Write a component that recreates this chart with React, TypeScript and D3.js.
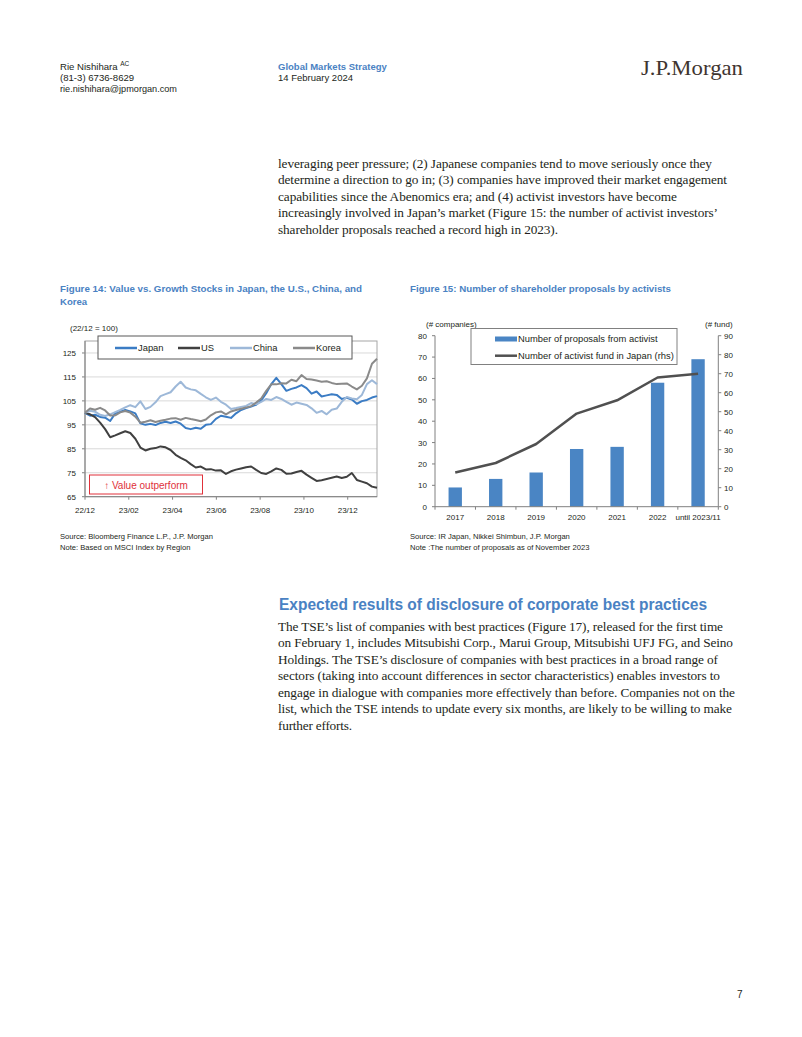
import React from 'react';
import * as d3 from 'd3';

const SANS = "'Liberation Sans', Arial, Helvetica, sans-serif";
const SERIF = "'Liberation Serif', 'Times New Roman', serif";
const BLUE = '#4a82c3';
const TXT = '#231f20';

// ---------- Figure 14: weekly index values (22/12 = 100) ----------
const fig14Japan = [
  100, 98.8, 99.2, 98.3, 98.0, 96.6, 99.8, 100.5, 101.2, 100.6,
  99.8, 95.6, 95.0, 95.4, 94.9, 95.8, 96.3, 95.8, 96.4, 95.5,
  93.7, 93.2, 93.8, 93.4, 95.0, 95.3, 97.5, 98.8, 98.4, 97.9,
  99.8, 101.2, 102.0, 102.6, 103.4, 105.2, 108.2, 112.0, 114.6, 112.0,
  109.2, 110.0, 110.6, 111.6, 110.3, 108.0, 108.9, 106.8, 107.3, 107.8,
  107.5, 105.8, 106.3, 105.6, 103.8, 104.9, 105.4, 106.4, 107.0,
];
const fig14US = [
  100, 99.4, 98.2, 95.9, 93.2, 89.8, 90.6, 91.5, 92.3, 91.6,
  89.2, 85.5, 84.3, 85.0, 85.3, 86.0, 85.6, 84.5, 82.5, 81.2,
  80.2, 78.6, 77.2, 77.6, 76.4, 76.5, 75.9, 76.0, 74.5, 75.6,
  76.3, 76.8, 77.3, 77.6, 76.2, 74.9, 74.5, 75.6, 76.8, 76.2,
  74.6, 74.7, 75.3, 75.8, 74.2, 72.9, 71.6, 71.9, 72.4, 72.9,
  73.4, 72.8, 73.3, 74.9, 72.0, 71.3, 70.6, 69.2, 68.7,
];
const fig14China = [
  100, 100.9, 100.5, 99.2, 98.7, 99.4, 100.3, 101.2, 102.3, 103.2,
  102.4, 104.8, 101.6, 102.5, 104.4, 107.0, 107.8, 108.6, 111.0, 113.0,
  110.6, 109.8, 109.4, 107.9, 106.5, 105.4, 106.4, 104.6, 103.4, 101.6,
  102.0, 102.5, 102.9, 104.1, 103.6, 104.6, 105.8, 105.4, 106.6, 105.8,
  104.6, 103.4, 104.3, 103.8, 103.3, 101.9, 100.0, 100.8, 99.4, 101.3,
  101.8, 104.6, 106.6, 106.0, 105.7, 107.5, 112.0, 113.6, 112.0,
];
const fig14Korea = [
  100, 101.8, 101.3, 102.1, 101.0, 98.9, 99.0, 100.2, 100.8, 100.1,
  98.4, 95.9, 96.3, 96.9, 96.2, 96.7, 97.1, 97.6, 97.8, 97.1,
  97.9, 97.4, 97.0, 96.5, 97.2, 99.0, 100.2, 100.6, 99.4, 100.6,
  101.2, 101.7, 102.2, 102.8, 104.3, 106.0, 109.2, 111.9, 111.9, 112.4,
  112.3, 113.8, 113.2, 115.8, 114.1, 113.9, 113.5, 113.0, 113.2, 112.5,
  112.0, 112.2, 112.3, 111.0, 109.8, 111.3, 114.4, 120.5, 122.6,
];
const fig14TickLabels = ['22/12', '23/02', '23/04', '23/06', '23/08', '23/10', '23/12'];
const fig14TickMonths = [0, 2, 4, 6, 8, 10, 12];
const fig14YTicks = [65, 75, 85, 95, 105, 115, 125];
const fig14Series = [
  { name: 'Japan', values: fig14Japan, color: '#3b7cc4' },
  { name: 'US', values: fig14US, color: '#404040' },
  { name: 'China', values: fig14China, color: '#9db8d8' },
  { name: 'Korea', values: fig14Korea, color: '#8a8a8a' },
];

// ---------- Figure 15 ----------
const fig15Years = ['2017', '2018', '2019', '2020', '2021', '2022', 'until 2023/11'];
const fig15Proposals = [9, 13, 16, 27, 28, 58, 69];
const fig15Funds = [18, 23, 33, 49, 56, 68, 70];
const fig15LeftTicks = [0, 10, 20, 30, 40, 50, 60, 70, 80];
const fig15RightTicks = [0, 10, 20, 30, 40, 50, 60, 70, 80, 90];

// ---------- Page text ----------
const para1 = [
  { t: 'leveraging peer pressure; (2) Japanese companies tend to move seriously once they', w: 434 },
  { t: 'determine a direction to go in; (3) companies have improved their market engagement', w: 449 },
  { t: 'capabilities since the Abenomics era; and (4) activist investors have become', w: 399 },
  { t: 'increasingly involved in Japan\u2019s market (Figure 15: the number of activist investors\u2019', w: 440 },
  { t: 'shareholder proposals reached a record high in 2023).', w: 280 },
];
const para2 = [
  { t: 'The TSE\u2019s list of companies with best practices (Figure 17), released for the first time', w: 445 },
  { t: 'on February 1, includes Mitsubishi Corp., Marui Group, Mitsubishi UFJ FG, and Seino', w: 455 },
  { t: 'Holdings. The TSE\u2019s disclosure of companies with best practices in a broad range of', w: 440 },
  { t: 'sectors (taking into account differences in sector characteristics) enables investors to', w: 442 },
  { t: 'engage in dialogue with companies more effectively than before. Companies not on the', w: 457 },
  { t: 'list, which the TSE intends to update every six months, are likely to be willing to make', w: 454 },
  { t: 'further efforts.', w: 74 },
];

function Figure14() {
  const x = d3.scaleLinear().domain([0, ((fig14Japan.length - 1) * 7) / 30.44]).range([85, 377]);
  const y = d3.scaleLinear().domain([65, 130]).range([496.7, 341]);
  const monthOf = (i: number) => (i * 7) / 30.44;
  const line = (vals: number[]) =>
    d3.line<number>().x((_, i) => x(monthOf(i))).y((v) => y(v))(vals) || '';
  const [x0, x1] = x.range();
  const [yb, yt] = y.range();
  return (
    <g>
      <text x={60} y={291.5} fontFamily={SANS} fontWeight="bold" fontSize={9.6} fill={BLUE} textLength={302} lengthAdjust="spacingAndGlyphs">
        Figure 14: Value vs. Growth Stocks in Japan, the U.S., China, and
      </text>
      <text x={60} y={305} fontFamily={SANS} fontWeight="bold" fontSize={9.6} fill={BLUE}>Korea</text>
      <text x={70} y={331} fontFamily={SANS} fontSize={8} fill={TXT}>(22/12 = 100)</text>
      {fig14YTicks.map((t) => (
        <g key={t}>
          {t > 65 && <line x1={x0} x2={x1} y1={y(t)} y2={y(t)} stroke="#d9d9d9" strokeWidth={1} />}
          <line x1={x0 - 3} x2={x0} y1={y(t)} y2={y(t)} stroke="#808080" />
          <text x={x0 - 9} y={y(t) + 3} textAnchor="end" fontFamily={SANS} fontSize={8} fill={TXT}>{t}</text>
        </g>
      ))}
      {fig14TickMonths.map((m, i) => (
        <g key={m}>
          <line x1={x(m)} x2={x(m)} y1={yb} y2={yb + 3} stroke="#808080" />
          <text x={x(m)} y={513} textAnchor="middle" fontFamily={SANS} fontSize={8} fill={TXT}>{fig14TickLabels[i]}</text>
        </g>
      ))}
      <rect x={x0} y={yt} width={x1 - x0} height={yb - yt} fill="none" stroke="#a6a6a6" strokeWidth={1} />
      <line x1={x0} x2={x0} y1={yt} y2={yb} stroke="#808080" />
      <line x1={x0} x2={x1} y1={yb} y2={yb} stroke="#808080" />
      {fig14Series.map((s) => (
        <path key={s.name} d={line(s.values)} fill="none" stroke={s.color} strokeWidth={2} strokeLinejoin="round" />
      ))}
      {/* legend */}
      <rect x={98} y={336} width={254} height={23} fill="#fff" stroke="#595959" strokeWidth={1} />
      {fig14Series.map((s, i) => {
        const lx = [115, 178, 230, 293][i];
        return (
          <g key={s.name}>
            <line x1={lx} x2={lx + 22} y1={348} y2={348} stroke={s.color} strokeWidth={2.5} />
            <text x={lx + 23} y={351.2} fontFamily={SANS} fontSize={9.4} fill={TXT}>{s.name}</text>
          </g>
        );
      })}
      {/* annotation */}
      <rect x={89.5} y={475} width={113} height={19} fill="#fff" stroke="#e0313a" strokeWidth={1} />
      <text x={146} y={488.5} textAnchor="middle" fontFamily={SANS} fontSize={10} fill="#e0313a">{'\u2191 Value outperform'}</text>
      <text x={60} y={539} fontFamily={SANS} fontSize={7.6} fill={TXT}>Source: Bloomberg Finance L.P., J.P. Morgan</text>
      <text x={60} y={550} fontFamily={SANS} fontSize={7.6} fill={TXT}>Note: Based on MSCI Index by Region</text>
    </g>
  );
}

function Figure15() {
  const x = d3.scaleBand<string>().domain(fig15Years).range([435, 718.3]).paddingInner(0.67).paddingOuter(0.335);
  const yL = d3.scaleLinear().domain([0, 80]).range([506.7, 335.7]);
  const yR = d3.scaleLinear().domain([0, 90]).range([506.7, 335.7]);
  const [x0, x1] = x.range();
  const step = x.step();
  const cx = (c: string) => (x(c) as number) + x.bandwidth() / 2;
  const linePath =
    d3.line<number>().x((_, i) => cx(fig15Years[i])).y((v) => yR(v))(fig15Funds) || '';
  return (
    <g>
      <text x={410} y={291.5} fontFamily={SANS} fontWeight="bold" fontSize={9.6} fill={BLUE} textLength={261} lengthAdjust="spacingAndGlyphs">
        Figure 15: Number of shareholder proposals by activists
      </text>
      <text x={426} y={327} fontFamily={SANS} fontSize={8} fill={TXT}>(# companies)</text>
      <text x={705} y={327} fontFamily={SANS} fontSize={8} fill={TXT}>(# fund)</text>
      {fig15Proposals.map((v, i) => (
        <rect key={i} x={x(fig15Years[i])} y={yL(v)} width={x.bandwidth()} height={yL(0) - yL(v)} fill="#4a85c4" />
      ))}
      <path d={linePath} fill="none" stroke="#505050" strokeWidth={2.5} strokeLinejoin="round" />
      <line x1={x0} x2={x0} y1={yL(80)} y2={yL(0)} stroke="#808080" />
      <line x1={x1} x2={x1} y1={yR(90)} y2={yR(0)} stroke="#808080" />
      <line x1={x0} x2={x1} y1={yL(0)} y2={yL(0)} stroke="#808080" />
      {fig15LeftTicks.map((t) => (
        <g key={t}>
          <line x1={x0 - 3} x2={x0} y1={yL(t)} y2={yL(t)} stroke="#808080" />
          <text x={427} y={yL(t) + 3} textAnchor="end" fontFamily={SANS} fontSize={8} fill={TXT}>{t}</text>
        </g>
      ))}
      {fig15RightTicks.map((t) => (
        <g key={t}>
          <line x1={x1} x2={x1 + 3} y1={yR(t)} y2={yR(t)} stroke="#808080" />
          <text x={724} y={yR(t) + 3} fontFamily={SANS} fontSize={8} fill={TXT}>{t}</text>
        </g>
      ))}
      {d3.range(fig15Years.length + 1).map((k) => (
        <line key={k} x1={x0 + k * step} x2={x0 + k * step} y1={yL(0)} y2={yL(0) + 3} stroke="#808080" />
      ))}
      {fig15Years.map((c) => (
        <text key={c} x={cx(c)} y={519.5} textAnchor="middle" fontFamily={SANS} fontSize={8} fill={TXT}>{c}</text>
      ))}
      {/* legend */}
      <rect x={471} y={328.5} width={206} height={36} fill="#fff" stroke="#808080" strokeWidth={1} />
      <rect x={495} y={336.5} width={22} height={5} fill="#4a85c4" />
      <text x={518} y={342} fontFamily={SANS} fontSize={9.4} fill={TXT}>Number of proposals from activist</text>
      <line x1={495} x2={517} y1={355.7} y2={355.7} stroke="#505050" strokeWidth={2.5} />
      <text x={518} y={359} fontFamily={SANS} fontSize={9.4} fill={TXT}>Number of activist fund in Japan (rhs)</text>
      <text x={410} y={539} fontFamily={SANS} fontSize={7.6} fill={TXT}>Source: IR Japan, Nikkei Shimbun, J.P. Morgan</text>
      <text x={410} y={550} fontFamily={SANS} fontSize={7.6} fill={TXT}>Note :The number of proposals as of November 2023</text>
    </g>
  );
}

export default function App() {
  return (
    <svg width={802} height={1037} viewBox="0 0 802 1037" style={{ position: 'absolute', left: 0, top: 0, background: '#fff' }}>
      <rect width={802} height={1037} fill="#fff" />
      {/* header */}
      <text x={60} y={69.5} fontFamily={SANS} fontSize={9.6} fill={TXT}>
        Rie Nishihara <tspan fontSize={6.5} dy={-4}>AC</tspan>
      </text>
      <text x={60} y={80.5} fontFamily={SANS} fontSize={9.6} fill={TXT}>(81-3) 6736-8629</text>
      <text x={60} y={91.5} fontFamily={SANS} fontSize={9.6} fill={TXT} textLength={117} lengthAdjust="spacingAndGlyphs">rie.nishihara@jpmorgan.com</text>
      <text x={278} y={69.5} fontFamily={SANS} fontSize={9.5} fontWeight="bold" fill={BLUE}>Global Markets Strategy</text>
      <text x={278} y={80.5} fontFamily={SANS} fontSize={9.5} fill={TXT}>14 February 2024</text>
      <text x={641} y={75} fontFamily={SERIF} fontSize={22} fill="#3f3530" textLength={102} lengthAdjust="spacingAndGlyphs">J.P.Morgan</text>

      {para1.map((l, i) => (
        <text key={i} x={278} y={167.5 + i * 16.5} fontFamily={SERIF} fontSize={13.3} fill={TXT} textLength={l.w} lengthAdjust="spacing">{l.t}</text>
      ))}

      <Figure14 />
      <Figure15 />

      <text x={279} y={609.5} fontFamily={SANS} fontSize={16} fontWeight="bold" fill={BLUE} textLength={428} lengthAdjust="spacingAndGlyphs">
        Expected results of disclosure of corporate best practices
      </text>
      {para2.map((l, i) => (
        <text key={i} x={278} y={630.5 + i * 16.5} fontFamily={SERIF} fontSize={13.3} fill={TXT} textLength={l.w} lengthAdjust="spacing">{l.t}</text>
      ))}
      <text x={737} y={998} fontFamily={SANS} fontSize={10} fill={TXT}>7</text>
    </svg>
  );
}
